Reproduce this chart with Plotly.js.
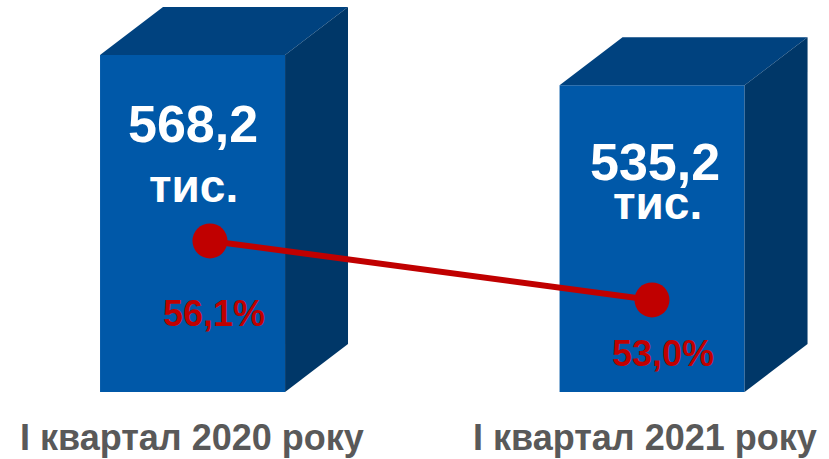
<!DOCTYPE html>
<html>
<head>
<meta charset="utf-8">
<script src="https://cdn.plot.ly/plotly-3.0.1.min.js"></script>
<style>html,body{margin:0;padding:0;background:#fff;}#chart{width:829px;height:459px;}</style>
</head>
<body>
<div id="chart"></div>
<script>
const categories = ["I квартал 2020 року", "I квартал 2021 року"];
const volumes = [568.2, 535.2];
const volumeLabels = ["568,2", "535,2"];
const unitLabel = "тис.";
const shares = [56.1, 53.0];
const shareLabels = ["56,1%", "53,0%"];

const FONT = "Arial, 'Liberation Sans', sans-serif";
const FRONT = "#0058a8", TOP = "#00427f", SIDE = "#003768", RED = "#c00000";
const base = 200, barW = 0.4026, dx = 0.137, dy = 52.4;
const xs = categories.map((_, i) => i);

const traces = [];
xs.forEach((x, i) => {
  const v = volumes[i], l = x - barW / 2, r = x + barW / 2;
  traces.push({type: "scatter", mode: "lines", fill: "toself", fillcolor: TOP,
    line: {width: 0, color: TOP}, hoverinfo: "skip", showlegend: false,
    x: [l, l + dx, r + dx, r, l], y: [v, v + dy, v + dy, v, v]});
  traces.push({type: "scatter", mode: "lines", fill: "toself", fillcolor: SIDE,
    line: {width: 0, color: SIDE}, hoverinfo: "skip", showlegend: false,
    x: [r, r, r + dx, r + dx, r], y: [base, v, v + dy, base + dy, base]});
});
traces.push({type: "bar", x: xs, y: volumes.map(v => v - base), base: base, width: barW,
  marker: {color: FRONT, line: {width: 0}}, hoverinfo: "skip", showlegend: false});
traces.push({type: "scatter", mode: "lines+markers", x: xs, y: shares, xaxis: "x2", yaxis: "y2",
  line: {color: RED, width: 6}, marker: {color: RED, size: 35}, showlegend: false, hoverinfo: "skip"});

const ann = [];
xs.forEach((x, i) => {
  const numY = [121.5, 158.5][i], unitY = [189, 205.5][i], pctY = [311.5, 351][i];
  const nx = [192.5, 655][i], ux = [193, 657][i], px = [213.5, 662.5][i], cx = [191.5, 645][i];
  ann.push({xref: "paper", yref: "paper", x: nx / 829, y: 1 - (numY + 3) / 459, xanchor: "center", yanchor: "middle",
    text: "<b>" + volumeLabels[i] + "</b>", showarrow: false, font: {family: FONT, size: 52, color: "#ffffff"}});
  ann.push({xref: "paper", yref: "paper", x: ux / 829, y: 1 - (unitY - 3) / 459, xanchor: "center", yanchor: "middle",
    text: "<b>" + unitLabel + "</b>", showarrow: false, font: {family: FONT, size: 46, color: "#ffffff"}});
  ann.push({xref: "paper", yref: "paper", x: px / 829, y: 1 - (pctY + 2) / 459, xanchor: "center", yanchor: "middle",
    text: "<b>" + shareLabels[i] + "</b>", showarrow: false, font: {family: FONT, size: 36, color: RED}});
  ann.push({xref: "paper", yref: "paper", x: cx / 829, y: 1 - (435 + 2) / 459, xanchor: "center", yanchor: "middle",
    text: "<b>" + categories[i] + "</b>", showarrow: false, font: {family: FONT, size: 36, color: "#595959"}});
});

const layout = {
  width: 829, height: 459, margin: {l: 0, r: 0, t: 0, b: 0},
  paper_bgcolor: "#ffffff", plot_bgcolor: "rgba(0,0,0,0)",
  xaxis: {range: [-0.419, 1.385], visible: false, fixedrange: true},
  xaxis2: {range: [-0.475, 1.4005], overlaying: "x", visible: false},
  yaxis: {range: [126.8, 628.3], visible: false},
  yaxis2: {range: [44.64, 68.76], overlaying: "y", visible: false},
  annotations: ann, showlegend: false
};
Plotly.newPlot("chart", traces, layout, {staticPlot: true, displayModeBar: false});
</script>
</body>
</html>
